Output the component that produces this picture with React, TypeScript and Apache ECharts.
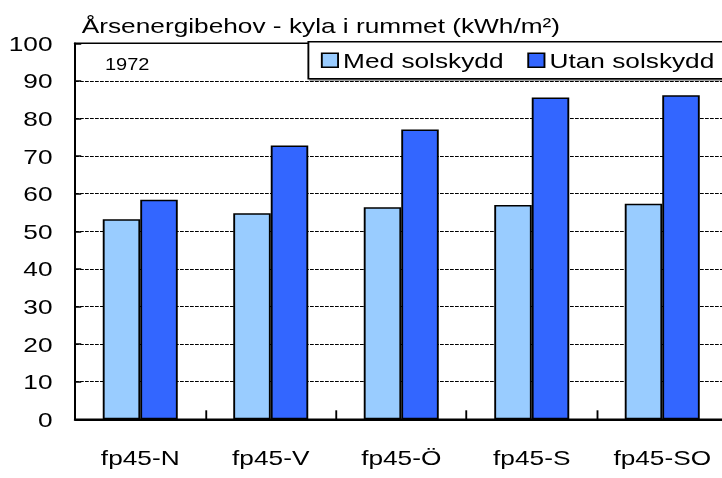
import React, { useEffect, useRef } from "react";
import * as echarts from "echarts";

const categories = ["fp45-N", "fp45-V", "fp45-Ö", "fp45-S", "fp45-SO"];
const seriesNames = ["Med solskydd", "Utan solskydd"];
const medSolskydd = [53.2, 54.8, 56.4, 57.0, 57.3];
const utanSolskydd = [58.4, 72.8, 77.1, 85.6, 86.2];
const titleText = "Årsenergibehov - kyla i rummet (kWh/m²)";
const yearText = "1972";

const FONT = "'Liberation Sans', Arial, Helvetica, sans-serif";

export default function App() {
  const ref = useRef<HTMLDivElement>(null);

  useEffect(() => {
    if (!ref.current) return;
    const chart = echarts.init(ref.current, null, { renderer: "svg" });
    chart.setOption({
      animation: false,
      backgroundColor: "#fff",
      textStyle: { fontFamily: FONT, color: "#000" },
      grid: {
        left: 60,
        right: 18,
        top: 43.3,
        bottom: 58.7,
        show: true,
        borderColor: "#000",
        borderWidth: 1.5,
        backgroundColor: "transparent",
      },
      legend: {
        data: seriesNames,
        left: 246.7,
        top: 41.7,
        orient: "horizontal",
        padding: [8, 20, 8, 10],
        itemGap: 19,
        itemWidth: 13,
        itemHeight: 14,
        icon: "rect",
        backgroundColor: "#fff",
        borderColor: "#000",
        borderWidth: 1.5,
        shadowColor: "rgba(0,0,0,0.45)",
        shadowBlur: 1,
        shadowOffsetX: 1.5,
        shadowOffsetY: 1.5,
        z: 10,
        itemStyle: { borderColor: "#000", borderWidth: 1.5 },
        textStyle: {
          fontFamily: FONT,
          fontSize: 21,
          color: "#000",
          lineHeight: 21,
          padding: [0, 0, 0, -1],
        },
      },
      graphic: [
        {
          type: "text",
          left: 65.4,
          top: 14.5,
          style: {
            text: titleText,
            fontFamily: FONT,
            fontSize: 21,
            fill: "#000",
          },
        },
        {
          type: "text",
          left: 84,
          top: 57,
          z: 20,
          style: {
            text: yearText,
            fontFamily: FONT,
            fontSize: 16,
            fill: "#000",
          },
        },
      ],
      xAxis: {
        type: "category",
        data: categories,
        axisLine: { show: true, lineStyle: { color: "#000", width: 2 } },
        axisTick: {
          show: true,
          inside: true,
          length: 9,
          lineStyle: { color: "#000", width: 1.5 },
        },
        axisLabel: {
          fontFamily: FONT,
          fontSize: 21,
          color: "#000",
          margin: 28,
        },
        splitLine: { show: false },
      },
      yAxis: {
        type: "value",
        min: 0,
        max: 100,
        interval: 10,
        axisLine: { show: true, lineStyle: { color: "#000", width: 1.6 } },
        axisTick: {
          show: true,
          inside: true,
          length: 5,
          lineStyle: { color: "#000", width: 1.5 },
        },
        axisLabel: {
          fontFamily: FONT,
          fontSize: 21,
          color: "#000",
          margin: 18,
        },
        splitLine: {
          show: true,
          showMinLine: false,
          showMaxLine: false,
          lineStyle: { color: "#000", width: 1, type: [3, 1] },
        },
      },
      series: [
        {
          name: seriesNames[0],
          type: "bar",
          data: medSolskydd,
          barWidth: 30,
          barGap: "0%",
          itemStyle: { color: "#99CCFF", borderColor: "#000", borderWidth: 1.5 },
        },
        {
          name: seriesNames[1],
          type: "bar",
          data: utanSolskydd,
          barWidth: 30,
          barGap: "0%",
          itemStyle: { color: "#3366FF", borderColor: "#000", borderWidth: 1.5 },
        },
      ],
    });
    return () => chart.dispose();
  }, []);

  return (
    <div
      style={{
        position: "absolute",
        left: 0,
        top: 0,
        width: 722,
        height: 478,
        overflow: "hidden",
        background: "#fff",
      }}
    >
      <div
        ref={ref}
        style={{
          width: 600,
          height: 478,
          transform: "scaleX(1.25)",
          transformOrigin: "0 0",
        }}
      />
    </div>
  );
}
